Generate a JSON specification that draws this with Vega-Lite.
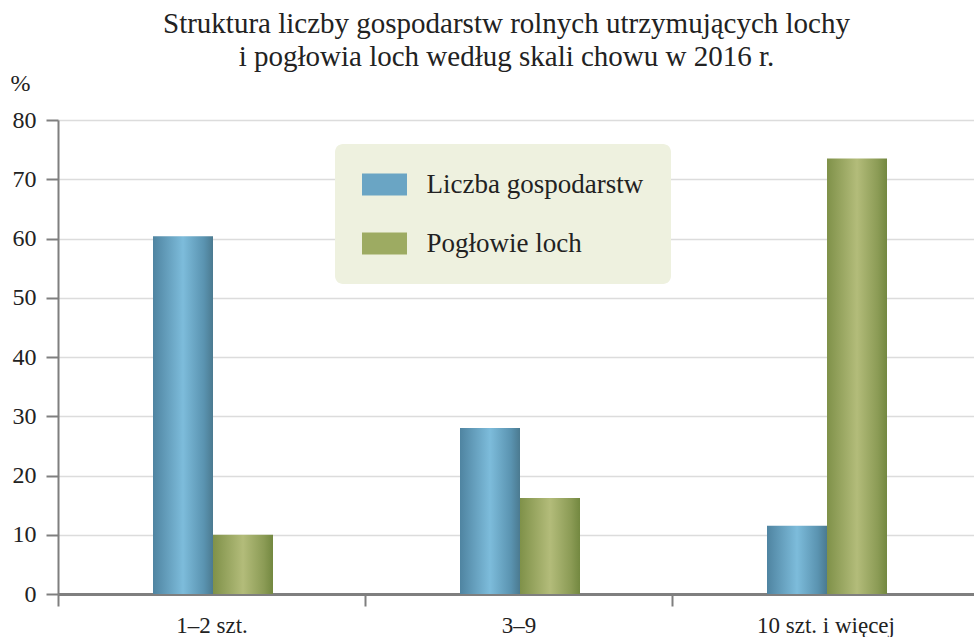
{
  "$schema": "https://vega.github.io/schema/vega-lite/v6.json",
  "width": 921,
  "height": 474,
  "autosize": {"type": "none"},
  "padding": {"left": 58, "top": 120, "right": 0, "bottom": 43},
  "background": "white",
  "config": {"font": "Liberation Serif", "view": {"stroke": null}},
  "title": {
    "text": ["Struktura liczby gospodarstw rolnych utrzymujących lochy", "i pogłowia loch według skali chowu w 2016 r."],
    "fontSize": 29,
    "font": "Liberation Serif",
    "fontWeight": "normal",
    "color": "#222222",
    "anchor": "middle",
    "frame": "group",
    "dx": -12,
    "offset": -1,
    "lineHeight": 33
  },
  "data": {
    "values": [
      {"skala": "1–2 szt.", "seria": "Liczba gospodarstw", "udzial": 60.4},
      {"skala": "1–2 szt.", "seria": "Pogłowie loch", "udzial": 10.0},
      {"skala": "3–9", "seria": "Liczba gospodarstw", "udzial": 28.0},
      {"skala": "3–9", "seria": "Pogłowie loch", "udzial": 16.2},
      {"skala": "10 szt. i więcej", "seria": "Liczba gospodarstw", "udzial": 11.5},
      {"skala": "10 szt. i więcej", "seria": "Pogłowie loch", "udzial": 73.5}
    ]
  },
  "encoding": {
    "x": {
      "field": "skala",
      "type": "nominal",
      "sort": ["1–2 szt.", "3–9", "10 szt. i więcej"],
      "scale": {"paddingInner": 0, "paddingOuter": 0},
      "axis": {
        "title": null,
        "labelAngle": 0,
        "labelFont": "Liberation Serif",
        "labelFontSize": 23,
        "labelColor": "#222222",
        "labelPadding": 8,
        "tickSize": 12,
        "tickBand": "extent",
        "tickColor": "#7f7f7f",
        "tickWidth": 2,
        "domainColor": "#7f7f7f",
        "domainWidth": 3,
        "grid": false
      }
    },
    "y": {
      "field": "udzial",
      "type": "quantitative",
      "scale": {"domain": [0, 80]},
      "axis": {
        "title": "%",
        "titleFont": "Liberation Serif",
        "titleAngle": 0,
        "titleAlign": "left",
        "titleBaseline": "alphabetic",
        "titleX": -48,
        "titleY": -30,
        "titleFontSize": 24,
        "titleFontWeight": "normal",
        "titleColor": "#222222",
        "values": [0, 10, 20, 30, 40, 50, 60, 70, 80],
        "labelFont": "Liberation Serif",
        "labelFontSize": 24,
        "labelColor": "#222222",
        "labelPadding": 10,
        "tickSize": 12,
        "tickColor": "#7f7f7f",
        "tickWidth": 2,
        "domainColor": "#7f7f7f",
        "domainWidth": 2,
        "gridColor": "#dcdcdc",
        "gridWidth": 1.5
      }
    },
    "xOffset": {
      "field": "seria",
      "type": "nominal",
      "scale": {"domain": ["Liczba gospodarstw", "Pogłowie loch"], "paddingInner": 0, "paddingOuter": 0, "range": [95, 215]}
    },
    "color": {
      "field": "seria",
      "type": "nominal",
      "scale": {"domain": ["Liczba gospodarstw", "Pogłowie loch"], "range": ["#6aa5c4", "#9dab62"]},
      "legend": {
        "orient": "none",
        "legendX": 277,
        "legendY": 24,
        "title": null,
        "fillColor": "#eef1df",
        "cornerRadius": 8,
        "padding": 27,
        "symbolType": "M-1.227,-1H2.863V1H-1.227Z",
        "symbolSize": 484,
        "symbolStrokeWidth": 0,
        "symbolOpacity": 1,
        "labelFontSize": 27,
        "labelFont": "Liberation Serif",
        "labelColor": "#222222",
        "labelOffset": 37.5,
        "labelLimit": 400,
        "rowPadding": 31,
        "encode": {
          "symbols": {
            "update": {
              "fill": [
                {"test": "datum.value === 'Liczba gospodarstw'", "value": {"gradient": "linear", "x1": 0, "y1": 0, "x2": 1, "y2": 0, "stops": [{"offset": 0, "color": "#4f84a1"}, {"offset": 0.5, "color": "#7dbcdb"}, {"offset": 0.85, "color": "#5a93b0"}, {"offset": 1, "color": "#4b7a90"}]}},
                {"value": {"gradient": "linear", "x1": 0, "y1": 0, "x2": 1, "y2": 0, "stops": [{"offset": 0, "color": "#7f9149"}, {"offset": 0.5, "color": "#b3bc7a"}, {"offset": 0.85, "color": "#8b9b55"}, {"offset": 1, "color": "#738840"}]}}
              ]
            }
          }
        }
      }
    }
  },
  "layer": [
    {
      "transform": [{"filter": "datum.seria === 'Liczba gospodarstw'"}],
      "mark": {"type": "bar", "fill": {"gradient": "linear", "x1": 0, "y1": 0, "x2": 1, "y2": 0, "stops": [{"offset": 0, "color": "#4f84a1"}, {"offset": 0.5, "color": "#7dbcdb"}, {"offset": 0.85, "color": "#5a93b0"}, {"offset": 1, "color": "#4b7a90"}]}}
    },
    {
      "transform": [{"filter": "datum.seria === 'Pogłowie loch'"}],
      "mark": {"type": "bar", "fill": {"gradient": "linear", "x1": 0, "y1": 0, "x2": 1, "y2": 0, "stops": [{"offset": 0, "color": "#7f9149"}, {"offset": 0.5, "color": "#b3bc7a"}, {"offset": 0.85, "color": "#8b9b55"}, {"offset": 1, "color": "#738840"}]}}
    }
  ]
}
